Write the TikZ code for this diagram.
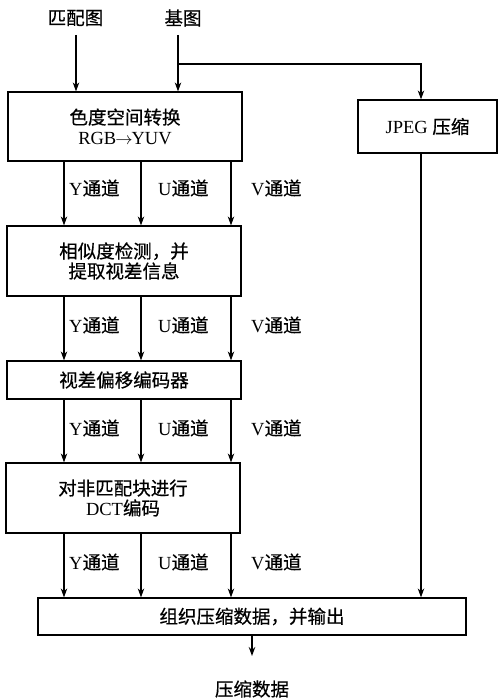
\documentclass[tikz,border=0pt]{standalone}
\usepackage{fontspec}
\setmainfont{Liberation Serif}
\newfontfamily\cjk[FakeBold=0.6]{Noto Sans CJK SC}
\usetikzlibrary{arrows.meta}
\begin{document}
\begin{tikzpicture}[x=1pt,y=-1pt,
  box/.style={draw, line width=1.2pt, inner sep=0pt, align=center, font=\fontsize{18.5}{20}\selectfont},
  lbl/.style={anchor=west, inner sep=0pt, font=\fontsize{18.5}{20}\selectfont},
  txt/.style={inner sep=0pt, font=\fontsize{18.5}{20}\selectfont},
  arr/.style={-{Stealth[length=9pt,width=6.5pt]}, line width=1.2pt},
  ln/.style={line width=1.2pt}]
\useasboundingbox (0,0) rectangle (498,700);
% inputs
\node[txt] (pp) at (75.5,18) {\cjk 匹配图};
\node[txt] (jt) at (183,18) {\cjk 基图};
\coordinate (pps) at (76,35);
\coordinate (jts) at (178,35);
\coordinate (br) at (178,64);
\coordinate (jx) at (421,0);
% boxes
\node[box, minimum width=234pt, minimum height=69pt] (b1) at (125,126.5) {{\cjk 色度空间转换}\\RGB\kern-1pt$\rightarrow$\kern-1pt YUV};
\node[box, minimum width=139pt, minimum height=53pt] (jp) at (427.5,126.5) {JPEG {\cjk 压缩}};
\node[box, minimum width=234pt, minimum height=70pt] (b2) at (124,261) {{\cjk 相似度检测，并}\\{\cjk 提取视差信息}};
\node[box, minimum width=234pt, minimum height=38pt] (b3) at (124,380) {\cjk 视差偏移编码器};
\node[box, minimum width=234pt, minimum height=70pt] (b4) at (123,498) {{\cjk 对非匹配块进行}\\DCT{\cjk 编码}};
\node[box, minimum width=428pt, minimum height=37pt] (b5) at (252,616.5) {\cjk 组织压缩数据，并输出};
\node[txt] (out) at (252,689) {\cjk 压缩数据};
\coordinate (oe) at (252,656);
% channel x positions
\coordinate (cy) at (64,0);
\coordinate (cu) at (141,0);
\coordinate (cv) at (231,0);
% input arrows
\draw[arr] (pps) -- (pps |- b1.north);
\draw[arr] (jts) -- (jts |- b1.north);
\draw[arr] (br) -| (jx |- jp.north);
\draw[arr] (jx |- jp.south) -- (jx |- b5.north);
% channels
\foreach \a/\b in {b1/b2,b2/b3,b3/b4,b4/b5}{
  \draw[arr] (cy |- \a.south) -- (cy |- \b.north);
  \draw[arr] (cu |- \a.south) -- (cu |- \b.north);
  \draw[arr] (cv |- \a.south) -- (cv |- \b.north);
}
% labels
\foreach \r in {188,325,428,562}{
  \node[lbl] (ly\r) at (69,\r) {Y{\cjk 通道}};
  \node[lbl] (lu\r) at (158,\r) {U{\cjk 通道}};
  \node[lbl] (lv\r) at (251,\r) {V{\cjk 通道}};
}
\draw[arr] (b5.south) -- (oe);
\end{tikzpicture}
\end{document}
